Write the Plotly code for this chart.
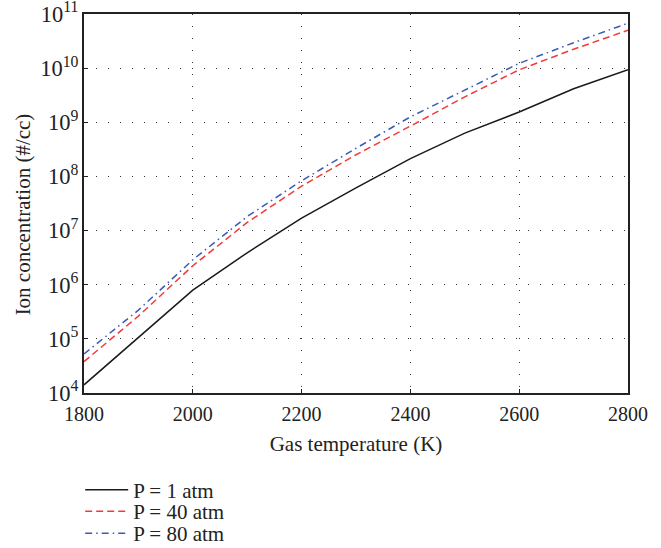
import plotly.graph_objects as go

temps = [1800, 1900, 2000, 2100, 2200, 2300, 2400, 2500, 2600, 2700, 2800]
log_p1 = [4.15, 5.03, 5.90, 6.59, 7.23, 7.79, 8.33, 8.80, 9.19, 9.62, 9.97]
log_p40 = [4.58, 5.42, 6.35, 7.15, 7.82, 8.40, 8.93, 9.47, 9.97, 10.35, 10.70]
log_p80 = [4.72, 5.53, 6.46, 7.26, 7.92, 8.52, 9.10, 9.60, 10.09, 10.47, 10.83]

p1 = [10 ** v for v in log_p1]
p40 = [10 ** v for v in log_p40]
p80 = [10 ** v for v in log_p80]

FONT = "Liberation Serif, Times New Roman, serif"
TXT = "#222222"

fig = go.Figure()
fig.add_trace(go.Scatter(x=temps, y=p1, mode="lines", name="P = 1 atm",
                         line=dict(color="#1a1a1a", width=1.5), legend="legend"))
fig.add_trace(go.Scatter(x=temps, y=p40, mode="lines", name="P = 40 atm",
                         line=dict(color="#f23a3a", width=1.5, dash="7px,4px"),
                         legend="legend2"))
fig.add_trace(go.Scatter(x=temps, y=p80, mode="lines", name="P = 80 atm",
                         line=dict(color="#3a5bb8", width=1.5, dash="7px,4px,1.5px,4px"),
                         legend="legend3"))

leg_common = dict(x=-0.007, xanchor="left", yanchor="top",
                  font=dict(family=FONT, size=21, color=TXT),
                  bgcolor="rgba(0,0,0,0)", itemwidth=43)

fig.update_layout(
    width=661, height=548,
    margin=dict(l=84, r=33, t=14, b=155, autoexpand=False),
    paper_bgcolor="white", plot_bgcolor="white",
    font=dict(family=FONT, size=20, color=TXT),
    showlegend=True,
    legend=dict(y=-0.2024, **leg_common),
    legend2=dict(y=-0.2586, **leg_common),
    legend3=dict(y=-0.3166, **leg_common),
    annotations=[dict(text="Ion concentration (#/cc)", textangle=-90,
                      xref="paper", yref="paper", x=-0.1127, y=0.4705,
                      xanchor="center", yanchor="middle", showarrow=False,
                      font=dict(family=FONT, size=21, color=TXT))],
)
fig.update_xaxes(
    range=[1800, 2800], dtick=200, tick0=1800,
    tickfont=dict(size=20), ticklabelstandoff=2, ticklabeloverflow="allow",
    title=dict(text="Gas temperature (K)", font=dict(size=21), standoff=12),
    showline=True, linecolor="#222222", linewidth=2, mirror=True,
    ticks="inside", ticklen=4, tickcolor="#222222",
    showgrid=True, gridcolor="#333333", gridwidth=1, griddash="1px,11px",
    zeroline=False, automargin=False,
)
fig.update_yaxes(
    type="log", range=[3.9995, 11.0005], dtick=1, exponentformat="power",
    tickfont=dict(size=18), ticklabeloverflow="allow",
    showline=True, linecolor="#222222", linewidth=2, mirror=True,
    ticks="inside", ticklen=4, tickcolor="#222222",
    showgrid=True, gridcolor="#333333", gridwidth=1, griddash="1px,11px",
    zeroline=False, automargin=False,
)

fig.write_html("out.html", config={"displayModeBar": False},
               post_script="document.body.style.margin='0';document.body.style.overflow='hidden';")
